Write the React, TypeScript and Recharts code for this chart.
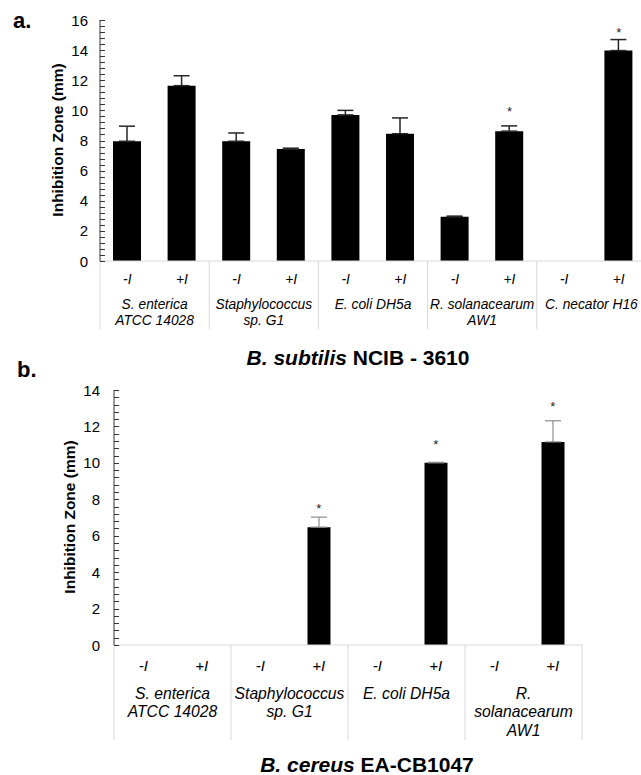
import React from 'react';
import { ComposedChart, Bar, XAxis, YAxis, ErrorBar, Line } from 'recharts';

const FONT = '"Liberation Sans", Arial, Helvetica, sans-serif';

const treatments = ['-I', '+I'];
const yAxisTitle = 'Inhibition Zone (mm)';

// panel a : B. subtilis NCIB - 3610
const groupsA: string[][] = [
  ['S. enterica', 'ATCC 14028'],
  ['Staphylococcus', 'sp. G1'],
  ['E. coli DH5a'],
  ['R. solanacearum', 'AW1'],
  ['C. necator H16'],
];
const valuesA: (number | null)[] = [7.95, 11.64, 7.95, 7.43, 9.7, 8.45, 2.93, 8.62, null, 13.97];
const errorsA: (number | null)[] = [1.0, 0.66, 0.55, 0.06, 0.3, 1.05, 0.05, 0.35, null, 0.73];
const starsA: (number | null)[] = [null, null, null, null, null, null, null, 10.0, null, 15.3];
const yMajorA = [0, 2, 4, 6, 8, 10, 12, 14, 16];
const titleA = { italic: 'B. subtilis', rest: 'NCIB - 3610' };

// panel b : B. cereus EA-CB1047
const groupsB: string[][] = [
  ['S. enterica', 'ATCC 14028'],
  ['Staphylococcus', 'sp. G1'],
  ['E. coli DH5a'],
  ['R.', 'solanacearum', 'AW1'],
];
const valuesB: (number | null)[] = [0, 0, 0, 6.47, 0, 10.0, 0, 11.15];
const errorsB: (number | null)[] = [0, 0, 0, 0.55, 0, 0.03, 0, 1.16];
const starsB: (number | null)[] = [null, null, null, 7.6, null, 11.1, null, 13.2];
const yMajorB = [0, 2, 4, 6, 8, 10, 12, 14];
const titleB = { italic: 'B. cereus', rest: 'EA-CB1047' };

const MINOR_STEP = 0.4;

function withMinor(major: number[]): number[] {
  const out: number[] = [];
  for (let i = 0; i < major.length - 1; i++) {
    const a = major[i];
    const b = major[i + 1];
    const n = Math.round((b - a) / MINOR_STEP);
    for (let k = 0; k < n; k++) out.push(+(a + k * MINOR_STEP).toFixed(4));
  }
  out.push(major[major.length - 1]);
  return out;
}

function buildData(groups: string[][], values: (number | null)[], errors: (number | null)[], stars: (number | null)[]) {
  const rows: any[] = [];
  groups.forEach((g, gi) => {
    treatments.forEach((t, ti) => {
      const i = gi * 2 + ti;
      rows.push({
        cat: g.join(' ') + ' ' + t,
        sub: t,
        group: g,
        value: values[i],
        err: errors[i] == null ? null : [0, errors[i]],
        star: stars[i],
      });
    });
  });
  return rows;
}

type XCfg = {
  band: number;
  total: number;
  subDy: number;
  firstDy: number;
  lineStep: number;
  divLen: number;
  subFont: number;
  groupFont: number;
  groups: string[][];
};

function renderXTick(props: any, cfg: XCfg) {
  const { x, y, index } = props;
  const sub = treatments[index % 2];
  const gi = Math.floor(index / 2);
  const isFirst = index % 2 === 0;
  const isLast = index === cfg.total - 1;
  const lines = cfg.groups[gi] || [];
  return (
    <g key={'xt' + index}>
      <text x={x} y={y + cfg.subDy} textAnchor="middle" dominantBaseline="central" fontFamily={FONT} fontStyle="italic" fontSize={cfg.subFont} fill="#000">
        {sub}
      </text>
      {isFirst && (
        <line x1={x - cfg.band / 2} x2={x - cfg.band / 2} y1={y} y2={y + cfg.divLen} stroke="#d9d9d9" strokeWidth={1} />
      )}
      {isLast && (
        <line x1={x + cfg.band / 2} x2={x + cfg.band / 2} y1={y} y2={y + cfg.divLen} stroke="#d9d9d9" strokeWidth={1} />
      )}
      {isFirst &&
        lines.map((ln, li) => (
          <text key={li} x={x + cfg.band / 2} y={y + cfg.firstDy + li * cfg.lineStep} textAnchor="middle" dominantBaseline="central" fontFamily={FONT} fontStyle="italic" fontSize={cfg.groupFont} fill="#000">
            {ln}
          </text>
        ))}
    </g>
  );
}

function renderYTick(props: any, major: number[], gap: number, font: number) {
  const { x, y, payload, index } = props;
  const v = payload.value as number;
  const isMajor = major.some((m) => Math.abs(m - v) < 1e-6);
  const ly = Math.round(y) + 0.5;
  return (
    <g key={'yt' + index}>
      <line x1={x} x2={x + 5} y1={ly} y2={ly} stroke="#333333" strokeWidth={1} />
      {isMajor && (
        <text x={x - gap} y={y} textAnchor="end" dominantBaseline="central" fontFamily={FONT} fontSize={font} fill="#000">
          {Math.round(v)}
        </text>
      )}
    </g>
  );
}

function starDot(props: any, color: string) {
  const { cx, cy, index, payload } = props;
  if (payload == null || payload.star == null || cy == null || !isFinite(cy)) return <g key={'sd' + index} />;
  return (
    <text key={'sd' + index} x={cx} y={cy + 6} textAnchor="middle" fontFamily={FONT} fontSize={13} fill={color}>
      *
    </text>
  );
}

type PanelProps = {
  data: any[];
  width: number;
  height: number;
  margin: { top: number; right: number; bottom: number; left: number };
  yWidth: number;
  yMax: number;
  yMajor: number[];
  yGap: number;
  yFont: number;
  xHeight: number;
  xCfg: XCfg;
  barSize: number;
  errColor: string;
  errWidth: number;
};

function Panel(p: PanelProps) {
  const ticks = withMinor(p.yMajor);
  return (
    <ComposedChart width={p.width} height={p.height} data={p.data} margin={p.margin}>
      <XAxis dataKey="cat" type="category" interval={0} tickLine={false} tickSize={0} tickMargin={0} height={p.xHeight} axisLine={{ stroke: '#d9d9d9', strokeWidth: 1 }} tick={(tp: any) => renderXTick(tp, p.xCfg)} />
      <YAxis type="number" domain={[0, p.yMax]} ticks={ticks} interval={0} width={p.yWidth} tickLine={false} tickSize={0} tickMargin={0} allowDataOverflow axisLine={{ stroke: '#333333', strokeWidth: 1 }} tick={(tp: any) => renderYTick(tp, p.yMajor, p.yGap, p.yFont)} />
      <Bar dataKey="value" fill="#000" barSize={p.barSize} isAnimationActive={false}>
        <ErrorBar dataKey="err" width={8} stroke={p.errColor} strokeWidth={p.errWidth} direction="y" />
      </Bar>
      <Line dataKey="star" stroke="none" dot={(dp: any) => starDot(dp, '#262626')} activeDot={false} isAnimationActive={false} legendType="none" />
    </ComposedChart>
  );
}

export default function App() {
  const dataA = buildData(groupsA, valuesA, errorsA, starsA);
  const dataB = buildData(groupsB, valuesB, errorsB, starsB);

  return (
    <div style={{ position: 'absolute', left: 0, top: 0, width: 641, height: 775, overflow: 'hidden', background: '#fff', fontFamily: FONT }}>
      <div style={{ position: 'absolute', left: 0, top: 0 }}>
        <Panel data={dataA} width={660} height={341} margin={{ top: 20, right: 14, bottom: 0, left: 0 }} yWidth={100} yMax={16} yMajor={yMajorA} yGap={12} yFont={15} xHeight={80}
          xCfg={{ band: 54.6, total: dataA.length, subDy: 18, firstDy: 43, lineStep: 16, divLen: 68, subFont: 13.8, groupFont: 13.8, groups: groupsA }}
          barSize={28} errColor="#262626" errWidth={1.5} />
      </div>
      <div style={{ position: 'absolute', left: 0, top: 370 }}>
        <Panel data={dataB} width={641} height={375} margin={{ top: 20, right: 59, bottom: 0, left: 0 }} yWidth={114} yMax={14} yMajor={yMajorB} yGap={14} yFont={15} xHeight={100}
          xCfg={{ band: 58.5, total: dataB.length, subDy: 20, firstDy: 48, lineStep: 18.5, divLen: 95, subFont: 15, groupFont: 15.7, groups: groupsB }}
          barSize={23} errColor="#8c8c8c" errWidth={1.2} />
      </div>
      <svg width={641} height={775} style={{ position: 'absolute', left: 0, top: 0, pointerEvents: 'none' }}>
        <text x={13} y={27.5} fontFamily={FONT} fontSize={22} fontWeight="bold" fill="#000">a.</text>
        <text x={17} y={376.5} fontFamily={FONT} fontSize={22} fontWeight="bold" fill="#000">b.</text>
        <text x={358} y={365} textAnchor="middle" fontFamily={FONT} fontSize={21} fontWeight="bold" fill="#000">
          <tspan fontStyle="italic">{titleA.italic}</tspan>
          <tspan>{' ' + titleA.rest}</tspan>
        </text>
        <text x={367} y={771.5} textAnchor="middle" fontFamily={FONT} fontSize={21} fontWeight="bold" fill="#000">
          <tspan fontStyle="italic">{titleB.italic}</tspan>
          <tspan>{' ' + titleB.rest}</tspan>
        </text>
        <text transform="translate(57.5,140) rotate(-90)" textAnchor="middle" dominantBaseline="central" fontFamily={FONT} fontSize={15.5} fontWeight="bold" fill="#000">{yAxisTitle}</text>
        <text transform="translate(69,517) rotate(-90)" textAnchor="middle" dominantBaseline="central" fontFamily={FONT} fontSize={15.5} fontWeight="bold" fill="#000">{yAxisTitle}</text>
      </svg>
    </div>
  );
}
